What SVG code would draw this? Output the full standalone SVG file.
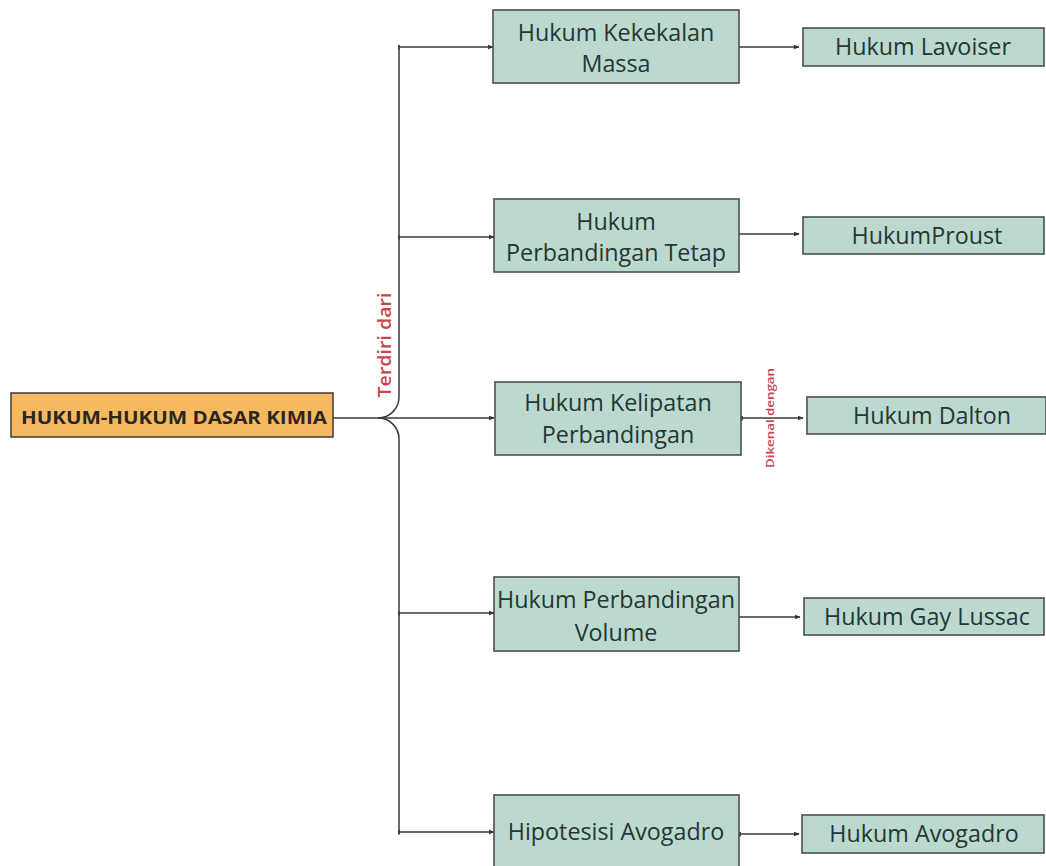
<svg xmlns="http://www.w3.org/2000/svg" width="1046" height="866" viewBox="0 0 1046 866">
<style>
.box{fill:#bcd9cf;stroke:#4a4f4d;stroke-width:1.6}
.main{fill:#f7b960;stroke:#4a4440;stroke-width:1.6}
.t{font-family:"Open Sans",sans-serif;font-size:23.3px;fill:#263632;text-anchor:middle}
.tm{font-family:"Open Sans",sans-serif;font-size:18px;font-weight:700;fill:#2b2620;text-anchor:middle}
.lbl{font-family:"Open Sans",sans-serif;fill:#c9454e;font-weight:600;text-anchor:middle}
.c{fill:none;stroke:#3a3a3a;stroke-width:1.5}
</style>
<defs>
<marker id="ah" viewBox="0 0 10 10" refX="9" refY="5" markerWidth="6" markerHeight="6" orient="auto" markerUnits="userSpaceOnUse">
<path d="M0,1 L10,5 L0,9 z" fill="#333"/>
</marker>
<marker id="st" viewBox="0 0 4 10" refX="2" refY="5" markerWidth="2" markerHeight="5" orient="auto" markerUnits="userSpaceOnUse">
<rect x="0" y="0" width="4" height="10" fill="#444"/>
</marker>
</defs>
<rect width="1046" height="866" fill="#ffffff"/>
<g id="connectors">
<path class="c" d="M333,418 H378"/>
<path class="c" d="M399,47 V397 A21,21 0 0 1 378,418 A21,21 0 0 1 399,439 V832"/>
<path class="c" d="M378,418 H494" marker-end="url(#ah)"/>
<path class="c" d="M399,47 H493" marker-start="url(#st)" marker-end="url(#ah)"/>
<path class="c" d="M399,237 H494" marker-start="url(#st)" marker-end="url(#ah)"/>
<path class="c" d="M399,613 H494" marker-start="url(#st)" marker-end="url(#ah)"/>
<path class="c" d="M399,832 H494" marker-start="url(#st)" marker-end="url(#ah)"/>
<path class="c" d="M739,47 H799" marker-end="url(#ah)"/>
<path class="c" d="M739,234 H799" marker-end="url(#ah)"/>
<path class="c" d="M742,418 H803" marker-start="url(#st)" marker-end="url(#ah)"/>
<path class="c" d="M739,617 H800" marker-end="url(#ah)"/>
<path class="c" d="M740,834 H799" marker-start="url(#st)" marker-end="url(#ah)"/>
<text class="lbl" font-size="18" transform="translate(391,345) rotate(-90)" textLength="105" lengthAdjust="spacingAndGlyphs">Terdiri dari</text>
<text class="lbl" font-size="11" transform="translate(774,418) rotate(-90)" textLength="100" lengthAdjust="spacingAndGlyphs">Dikenal dengan</text>
</g>
<g id="n-main">
<rect class="main" x="11" y="393" width="322" height="44"/>
<text class="tm" x="174" y="424" textLength="306" lengthAdjust="spacingAndGlyphs">HUKUM-HUKUM DASAR KIMIA</text>
</g>
<g id="n-kekekalan">
<rect class="box" x="493" y="10" width="246" height="73"/>
<text class="t" x="616" y="41">Hukum Kekekalan</text>
<text class="t" x="616" y="72">Massa</text>
</g>
<g id="n-tetap">
<rect class="box" x="494" y="199" width="245" height="73"/>
<text class="t" x="616" y="230">Hukum</text>
<text class="t" x="616" y="261">Perbandingan Tetap</text>
</g>
<g id="n-kelipatan">
<rect class="box" x="495" y="382" width="246" height="73"/>
<text class="t" x="618" y="411">Hukum Kelipatan</text>
<text class="t" x="618" y="443">Perbandingan</text>
</g>
<g id="n-volume">
<rect class="box" x="494" y="577" width="245" height="74"/>
<text class="t" x="616" y="608">Hukum Perbandingan</text>
<text class="t" x="616" y="641">Volume</text>
</g>
<g id="n-hipotesis">
<rect class="box" x="494" y="795" width="245" height="80"/>
<text class="t" x="616" y="840">Hipotesisi Avogadro</text>
</g>
<g id="n-lavoiser">
<rect class="box" x="803" y="28" width="241" height="38"/>
<text class="t" x="923" y="55">Hukum Lavoiser</text>
</g>
<g id="n-proust">
<rect class="box" x="803" y="217" width="241" height="37"/>
<text class="t" x="927" y="244">HukumProust</text>
</g>
<g id="n-dalton">
<rect class="box" x="807" y="397" width="239" height="37"/>
<text class="t" x="932" y="424">Hukum Dalton</text>
</g>
<g id="n-gaylussac">
<rect class="box" x="804" y="598" width="240" height="37"/>
<text class="t" x="927" y="625">Hukum Gay Lussac</text>
</g>
<g id="n-avogadro">
<rect class="box" x="802" y="815" width="242" height="38"/>
<text class="t" x="924" y="842">Hukum Avogadro</text>
</g>
</svg>
